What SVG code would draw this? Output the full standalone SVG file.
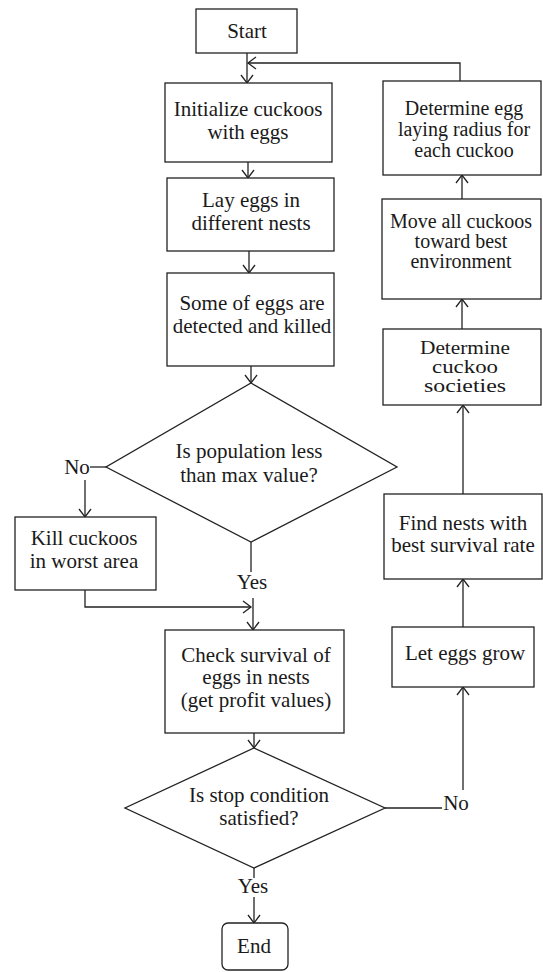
<svg xmlns="http://www.w3.org/2000/svg" width="543" height="972" viewBox="0 0 543 972" font-family="Liberation Serif, Times New Roman, serif">
<style>
.box{fill:#fff;stroke:#222;stroke-width:1.3}
.ln{fill:none;stroke:#222;stroke-width:1.3}
text{font-size:21px;fill:#1a1a1a;text-anchor:middle}
.md{font-size:20px}
.sm{font-size:18px}
</style>
<defs>
<marker id="arr" markerUnits="userSpaceOnUse" markerWidth="12" markerHeight="14" refX="9" refY="7" orient="auto">
<path d="M1,1 L9,7 L1,13" fill="none" stroke="#222" stroke-width="1.3"/>
</marker>
</defs>
<rect width="543" height="972" fill="#fff"/>
<g id="connectors">
<path class="ln" d="M247,53 V83" marker-end="url(#arr)"/>
<path class="ln" d="M460,81 V63 H248" marker-end="url(#arr)"/>
<path class="ln" d="M248,162 V178" marker-end="url(#arr)"/>
<path class="ln" d="M249,251 V273" marker-end="url(#arr)"/>
<path class="ln" d="M251,366 V383" marker-end="url(#arr)"/>
<path class="ln" d="M106,467 H90"/>
<path class="ln" d="M85,480 V517" marker-end="url(#arr)"/>
<path class="ln" d="M251,542 V572"/>
<path class="ln" d="M253,598 V630" marker-end="url(#arr)"/>
<path class="ln" d="M85,590 V607 H251" marker-end="url(#arr)"/>
<path class="ln" d="M254,733 V748" marker-end="url(#arr)"/>
<path class="ln" d="M385,808 H442"/>
<path class="ln" d="M463,790 V687" marker-end="url(#arr)"/>
<path class="ln" d="M463,627 V579" marker-end="url(#arr)"/>
<path class="ln" d="M463,494 V405" marker-end="url(#arr)"/>
<path class="ln" d="M462,329 V299" marker-end="url(#arr)"/>
<path class="ln" d="M462,199 V175" marker-end="url(#arr)"/>
<path class="ln" d="M254,868 V878"/>
<path class="ln" d="M254,897 V923" marker-end="url(#arr)"/>
</g>
<g id="start"><rect class="box" x="196" y="9" width="101" height="44"/><text x="247" y="38">Start</text></g>
<g id="init"><rect class="box" x="165" y="83" width="167" height="79"/><text x="248" y="116">Initialize cuckoos</text><text x="248" y="139">with eggs</text></g>
<g id="lay"><rect class="box" x="167" y="178" width="167" height="73"/><text x="251" y="207">Lay eggs in</text><text x="251" y="230">different nests</text></g>
<g id="detect"><rect class="box" x="167" y="273" width="167" height="93"/><text x="252" y="310">Some of eggs are</text><text x="252" y="333">detected and killed</text></g>
<g id="decision1"><polygon class="box" points="251,383 397,467 251,542 106,467"/><text x="249" y="458">Is population less</text><text x="249" y="482">than max value?</text></g>
<g id="kill"><rect class="box" x="15" y="517" width="141" height="73"/><text x="84" y="545">Kill cuckoos</text><text x="84" y="568">in worst area</text></g>
<g id="check"><rect class="box" x="165" y="630" width="179" height="103"/><text x="256" y="662">Check survival of</text><text x="256" y="684">eggs in nests</text><text x="256" y="707">(get profit values)</text></g>
<g id="decision2"><polygon class="box" points="254,748 385,808 254,868 125,808"/><text x="259" y="802">Is stop condition</text><text x="259" y="825">satisfied?</text></g>
<g id="end"><rect class="box" x="222" y="923" width="66" height="47" rx="6"/><text x="254" y="953">End</text></g>
<g id="grow"><rect class="box" x="392" y="627" width="142" height="60"/><text x="465" y="660">Let eggs grow</text></g>
<g id="findnests"><rect class="box" x="384" y="494" width="158" height="85"/><text x="463" y="530">Find nests with</text><text x="463" y="552">best survival rate</text></g>
<g id="societies"><rect class="box" x="383" y="329" width="158" height="76"/><text class="sm" x="465" y="354" textLength="90" lengthAdjust="spacingAndGlyphs">Determine</text><text class="sm" x="465" y="373" textLength="66" lengthAdjust="spacingAndGlyphs">cuckoo</text><text class="sm" x="465" y="392" textLength="82" lengthAdjust="spacingAndGlyphs">societies</text></g>
<g id="move"><rect class="box" x="382" y="199" width="159" height="100"/><text class="md" x="461" y="228">Move all cuckoos</text><text class="md" x="461" y="248">toward best</text><text class="md" x="461" y="268">environment</text></g>
<g id="radius"><rect class="box" x="383" y="81" width="158" height="94"/><text class="md" x="464" y="115">Determine egg</text><text class="md" x="464" y="136">laying radius for</text><text class="md" x="464" y="157">each cuckoo</text></g>
<g id="labels">
<text x="77" y="474">No</text>
<text x="252" y="589">Yes</text>
<text x="456" y="810">No</text>
<text x="253" y="893">Yes</text>
</g>
</svg>
